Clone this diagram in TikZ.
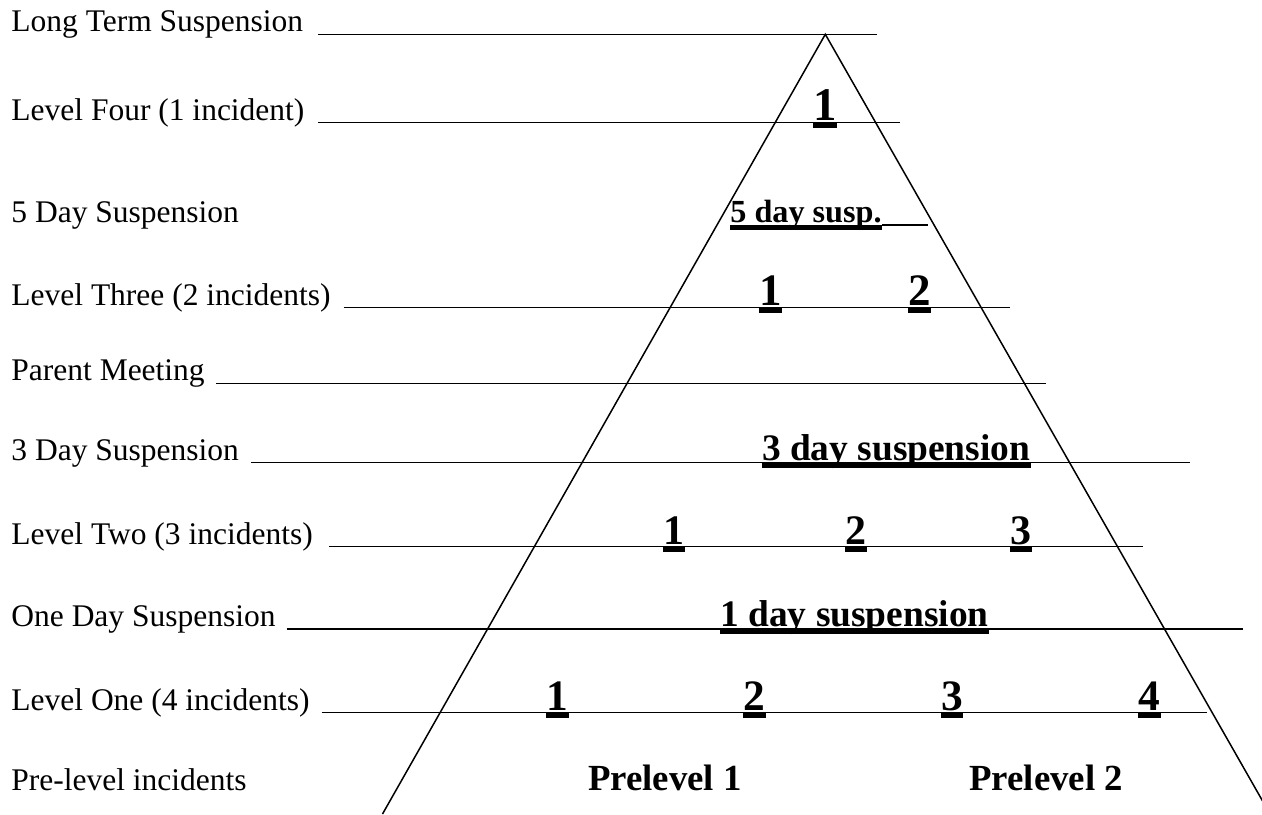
\documentclass[tikz,border=0pt]{standalone}
\usepackage{fontspec}
\setmainfont{Liberation Serif}
\begin{document}
\begin{tikzpicture}[x=0.5pt,y=-0.5pt,
  lbl/.style={anchor=base west,inner sep=0pt,font=\fontsize{15.75}{18}\selectfont},
  itm/.style={anchor=base west,inner sep=0pt,font=\bfseries\fontsize{#1}{#1}\selectfont},
  rule/.style={line width=0.65pt},
  ubar/.style={line width=2.3pt},
  tri/.style={line width=0.75pt,line join=miter}]
\useasboundingbox (0,0) rectangle (1262,814);
\fill[white] (0,0) rectangle (1262,814);
\newcommand{\ubarline}[2]{\draw[ubar] (#1.base west |- #2) -- (#1.base east |- #2);}
% Row 1
\node[lbl] (l1) at (11,31.8) {Long Term Suspension};
\coordinate (a1) at (318,34.3); \coordinate (b1) at (877,34.3);
\draw[rule] (a1) -- (b1);
% Row 2
\node[lbl] (l2) at (11,120.2) {Level Four (1 incident)};
\coordinate (a2) at (318,122.7); \coordinate (b2) at (900,122.7);
\draw[rule] (a2) -- (b2);
\coordinate (u2) at (0,125.5);
\node[itm=23.4] (d21) at (813,120.4) {1};
\ubarline{d21}{u2}
% Row 3
\node[lbl] (l3) at (11,222.5) {5 Day Suspension};
\node[itm=16.1] (s3) at (730,222.7) {5 day susp.};
\coordinate (b3) at (928,225);
\draw[rule] (s3.base east |- b3) -- (b3);
\coordinate (u3) at (0,227.5);
\ubarline{s3}{u3}
% Row 4
\node[lbl] (l4) at (11,305.2) {Level Three (2 incidents)};
\coordinate (a4) at (343.5,307.7); \coordinate (b4) at (1010,307.7);
\draw[rule] (a4) -- (b4);
\coordinate (u4) at (0,310.3);
\node[itm=22.5] (d41) at (758.6,305.4) {1};
\node[itm=22.5] (d42) at (908,305.4) {2};
\ubarline{d41}{u4}
\ubarline{d42}{u4}
% Row 5
\node[lbl] (l5) at (11,380.8) {Parent Meeting};
\coordinate (a5) at (216,383.3); \coordinate (b5) at (1046,383.3);
\draw[rule] (a5) -- (b5);
% Row 6
\node[lbl] (l6) at (11,460.2) {3 Day Suspension};
\coordinate (a6) at (251,462.7); \coordinate (b6) at (1190,462.7);
\draw[rule] (a6) -- (b6);
\coordinate (u6) at (0,465.3);
\node[itm=18.7] (s6) at (761.7,460.4) {3 day suspension};
\ubarline{s6}{u6}
% Row 7
\node[lbl] (l7) at (11,544.2) {Level Two (3 incidents)};
\coordinate (a7) at (329,546.7); \coordinate (b7) at (1143,546.7);
\draw[rule] (a7) -- (b7);
\coordinate (u7) at (0,549.3);
\node[itm=21] (d71) at (663,544.4) {1};
\node[itm=21] (d72) at (845,544.4) {2};
\node[itm=21] (d73) at (1010,544.4) {3};
\ubarline{d71}{u7}
\ubarline{d72}{u7}
\ubarline{d73}{u7}
% Row 8
\node[lbl] (l8) at (11,626.5) {One Day Suspension};
\coordinate (a8) at (287,629); \coordinate (b8) at (1243,629);
\draw[rule] (a8) -- (b8);
\coordinate (u8) at (0,631.6);
\node[itm=18.7] (s8) at (720,626.7) {1 day suspension};
\ubarline{s8}{u8}
% Row 9
\node[lbl] (l9) at (11,710.2) {Level One (4 incidents)};
\coordinate (a9) at (321.7,712.7); \coordinate (b9) at (1207,712.7);
\draw[rule] (a9) -- (b9);
\coordinate (u9) at (0,715.5);
\node[itm=21.7] (d91) at (546,710.4) {1};
\node[itm=21.7] (d92) at (743.4,710.4) {2};
\node[itm=21.7] (d93) at (940.7,710.4) {3};
\node[itm=21.7] (d94) at (1138,710.4) {4};
\ubarline{d91}{u9}
\ubarline{d92}{u9}
\ubarline{d93}{u9}
\ubarline{d94}{u9}
% Row 10
\node[lbl] (l10) at (11,790.5) {Pre-level incidents};
\node[itm=18.4] (p1) at (587.7,790.5) {Prelevel 1};
\node[itm=18.4] (p2) at (969,790.5) {Prelevel 2};
% Triangle
\coordinate (apex) at (825.3,34.3);
\coordinate (bl) at (382.5,814);
\coordinate (br) at (1270,814);
\draw[tri] (bl) -- (apex) -- (br);
\end{tikzpicture}
\end{document}
